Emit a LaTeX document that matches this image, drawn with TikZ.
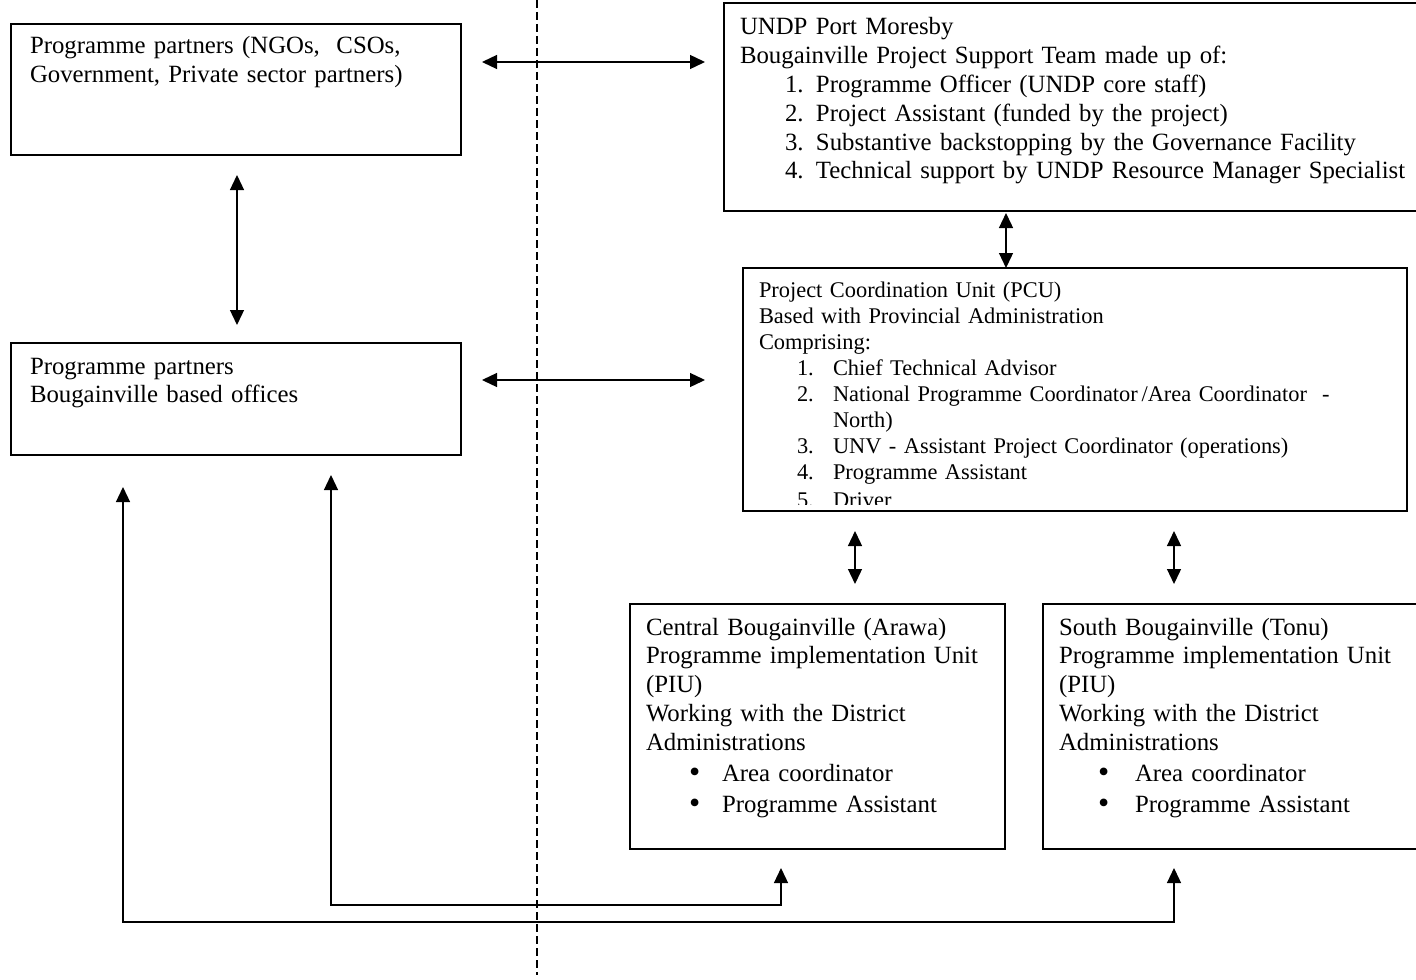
\documentclass[tikz,border=0pt]{standalone}
\usepackage{fontspec}
\setmainfont{Liberation Serif}[WordSpace=0.8]
\usetikzlibrary{arrows.meta,calc}
\newcommand\bigbul{\raisebox{-0.6pt}{\fontsize{16}{14}\selectfont •}}
\begin{document}
\begin{tikzpicture}[x=0.5pt,y=-0.5pt,
  box/.style={draw, line width=0.7pt, anchor=north west, inner sep=0pt, outer sep=0pt},
  txt/.style={anchor=base west, inner sep=0pt, outer sep=0pt, align=left, text width=340pt,
              font=\fontsize{12.4}{14.4}\selectfont},
  txts/.style={txt, font=\fontsize{11.2}{13.05}\selectfont},
  link/.style={line width=0.65pt, {Triangle[length=7.5pt,width=7pt]}-{Triangle[length=7.5pt,width=7pt]}},
  divider/.style={line width=0.6pt, dash pattern=on 4pt off 2pt}]
\useasboundingbox (0,0) rectangle (1416,979);

% dashed divider
\draw[divider] (537,0) -- (537,975);

% boxes
\node[box, minimum width=225pt, minimum height=65.5pt] (pp1) at (11,24) {};
\node[box, minimum width=225pt, minimum height=56pt] (pp2) at (11,343) {};
\node[box, minimum width=350pt, minimum height=104pt] (undp) at (724,3) {};
\node[box, minimum width=332pt, minimum height=121.5pt] (pcu) at (743,268) {};
\node[box, minimum width=187.5pt, minimum height=122.5pt] (cen) at (630,604) {};
\node[box, minimum width=190pt, minimum height=122.5pt] (sou) at (1043,604) {};

% texts
\node[txt] (pp1t) at ($(pp1.north west)+(19,30)$)
  {Programme partners (NGOs,\ \ CSOs,\\Government, Private sector partners)};
\node[txt] (pp2t) at ($(pp2.north west)+(19,31)$)
  {Programme partners\\Bougainville based offices};
\node[txt] (undpt) at ($(undp.north west)+(16,32)$)
  {UNDP Port Moresby\\
   Bougainville Project Support Team made up of:\\
   \hspace*{22.5pt}\makebox[15.5pt][l]{1.}Programme Officer (UNDP core staff)\\
   \hspace*{22.5pt}\makebox[15.5pt][l]{2.}Project Assistant (funded by the project)\\
   \hspace*{22.5pt}\makebox[15.5pt][l]{3.}Substantive backstopping by the Governance Facility\\
   \hspace*{22.5pt}\makebox[15.5pt][l]{4.}Technical support by UNDP Resource Manager Specialist};
\begin{scope}
  \clip (pcu.north west) rectangle ($(pcu.south east)+(0,-7)$);
  \node[txts] (pcut) at ($(pcu.north west)+(16,29)$)
  {Project Coordination Unit (PCU)\\
   Based with Provincial Administration\\
   Comprising:\\
   \hspace*{19pt}\makebox[18pt][l]{1.}Chief Technical Advisor\\
   \hspace*{19pt}\makebox[18pt][l]{2.}National Programme Coordinator\,/Area Coordinator\ \ -\\
   \hspace*{37pt}North)\\
   \hspace*{19pt}\makebox[18pt][l]{3.}UNV - Assistant Project Coordinator (operations)\\
   \hspace*{19pt}\makebox[18pt][l]{4.}Programme Assistant\\[1pt]
   \hspace*{19pt}\makebox[18pt][l]{5.}Driver};
\end{scope}
\node[txt] (cent) at ($(cen.north west)+(16,31)$)
  {Central Bougainville (Arawa)\\
   Programme implementation Unit\\
   (PIU)\\
   Working with the District\\
   Administrations\\[1.2pt]
   \hspace*{21.5pt}\makebox[16.5pt][l]{\bigbul}Area coordinator\\[1.2pt]
   \hspace*{21.5pt}\makebox[16.5pt][l]{\bigbul}Programme Assistant};
\node[txt] (sout) at ($(sou.north west)+(16,31)$)
  {South Bougainville (Tonu)\\
   Programme implementation Unit\\
   (PIU)\\
   Working with the District\\
   Administrations\\[1.2pt]
   \hspace*{19.5pt}\makebox[18.5pt][l]{\bigbul}Area coordinator\\[1.2pt]
   \hspace*{19.5pt}\makebox[18.5pt][l]{\bigbul}Programme Assistant};

% connectors
\draw[link] ($(pp1.north east)+(21,38)$) -- ($(undp.north west)+(-19,59)$);
\draw[link] ($(pp1.south)+(1,20)$) -- ($(pp2.north)+(1,-18)$);
\draw[link] ($(pp2.north east)+(21,37)$) -- ($(pcu.north west)+(-38,112)$);
\draw[link] ($(undp.south west)+(282,2)$) -- ($(pcu.north west)+(263,0)$);
\draw[link] ($(pcu.south west)+(112,20)$) -- ($(cen.north west)+(225,-20)$);
\draw[link] ($(pcu.south west)+(431,20)$) -- ($(sou.north west)+(131,-20)$);
\draw[link] ($(pp2.south west)+(112,32)$) |- ($(sou.south west)+(131,73)$) -- ($(sou.south west)+(131,19)$);
\draw[link] ($(pp2.south west)+(320,20)$) |- ($(cen.south west)+(151,56)$) -- ($(cen.south west)+(151,19)$);
\end{tikzpicture}
\end{document}
